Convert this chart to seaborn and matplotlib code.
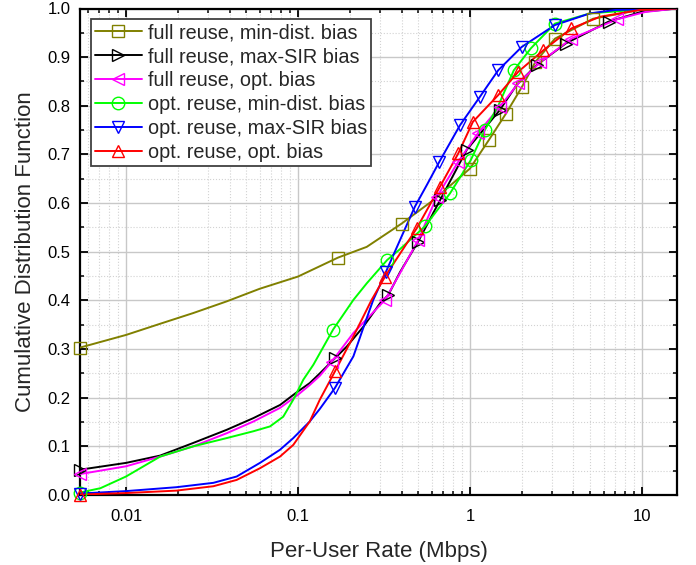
import matplotlib
matplotlib.use("Agg")
import matplotlib.pyplot as plt
import seaborn as sns
from matplotlib.lines import Line2D
from matplotlib.ticker import FixedLocator, FixedFormatter, LogLocator, MultipleLocator, NullFormatter

# ---------------- data ----------------
series_labels = [
    "full reuse, min-dist. bias",
    "full reuse, max-SIR bias",
    "full reuse, opt. bias",
    "opt. reuse, min-dist. bias",
    "opt. reuse, max-SIR bias",
    "opt. reuse, opt. bias",
]

# full reuse, min-dist. bias
fr_md_x = [0.0054, 0.01, 0.0158, 0.0246, 0.0385, 0.060, 0.1, 0.171, 0.251, 0.401, 0.612, 1.0, 1.29, 1.62, 2.0, 2.4, 3.12, 5.2, 9.7, 16]
fr_md_y = [0.303, 0.329, 0.352, 0.374, 0.398, 0.424, 0.449, 0.488, 0.510, 0.558, 0.606, 0.671, 0.730, 0.784, 0.838, 0.890, 0.938, 0.979, 0.997, 1.0]
fr_md_mx = [0.0054, 0.171, 0.401, 1.0, 1.29, 1.62, 2.0, 2.4, 3.12, 5.2]
fr_md_my = [0.303, 0.488, 0.558, 0.671, 0.730, 0.784, 0.838, 0.890, 0.938, 0.979]

# full reuse, max-SIR bias
fr_ms_x = [0.0054, 0.01, 0.0158, 0.0246, 0.0385, 0.055, 0.0786, 0.1, 0.117, 0.134, 0.164, 0.192, 0.24, 0.3, 0.335, 0.392, 0.5, 0.67, 0.96, 1.49, 1.87, 2.45, 3.6, 6.4, 9.9, 16]
fr_ms_y = [0.052, 0.066, 0.081, 0.107, 0.134, 0.158, 0.185, 0.213, 0.230, 0.250, 0.281, 0.305, 0.346, 0.394, 0.411, 0.458, 0.521, 0.606, 0.710, 0.791, 0.843, 0.884, 0.928, 0.973, 0.993, 1.0]
fr_ms_mx = [0.0054, 0.164, 0.335, 0.5, 0.67, 0.96, 1.49, 2.45, 3.6, 6.4]
fr_ms_my = [0.052, 0.281, 0.411, 0.521, 0.606, 0.710, 0.791, 0.884, 0.928, 0.973]

# full reuse, opt. bias
fr_op_x = [0.0054, 0.01, 0.0158, 0.0246, 0.0385, 0.055, 0.0786, 0.1, 0.117, 0.134, 0.157, 0.21, 0.321, 0.392, 0.5, 0.64, 0.855, 1.12, 1.49, 1.91, 2.57, 3.89, 7.2, 10.5, 16]
fr_op_y = [0.043, 0.059, 0.079, 0.100, 0.127, 0.151, 0.179, 0.206, 0.226, 0.245, 0.274, 0.333, 0.401, 0.456, 0.524, 0.612, 0.685, 0.745, 0.798, 0.846, 0.890, 0.938, 0.978, 0.993, 1.0]
fr_op_mx = [0.0054, 0.157, 0.321, 0.5, 0.64, 0.855, 1.12, 1.49, 1.91, 2.57, 3.89, 7.2]
fr_op_my = [0.043, 0.274, 0.401, 0.524, 0.612, 0.685, 0.745, 0.798, 0.846, 0.890, 0.938, 0.978]

# opt. reuse, min-dist. bias
or_md_x = [0.0054, 0.0071, 0.01, 0.0158, 0.0246, 0.0385, 0.055, 0.0688, 0.0821, 0.0939, 0.1074, 0.123, 0.16, 0.21, 0.251, 0.33, 0.391, 0.547, 0.766, 1.01, 1.22, 1.46, 1.80, 2.26, 3.12, 5.0, 9.0, 16]
or_md_y = [0.005, 0.014, 0.038, 0.079, 0.100, 0.117, 0.131, 0.141, 0.161, 0.196, 0.237, 0.268, 0.340, 0.401, 0.435, 0.483, 0.505, 0.552, 0.620, 0.688, 0.750, 0.800, 0.873, 0.918, 0.969, 0.990, 0.997, 1.0]
or_md_mx = [0.0054, 0.16, 0.33, 0.547, 0.766, 1.01, 1.22, 1.80, 2.26, 3.12]
or_md_my = [0.005, 0.340, 0.483, 0.552, 0.620, 0.688, 0.750, 0.873, 0.918, 0.969]

# opt. reuse, max-SIR bias
or_ms_x = [0.0054, 0.01, 0.0196, 0.0322, 0.044, 0.0601, 0.0786, 0.0939, 0.117, 0.134, 0.164, 0.21, 0.245, 0.274, 0.325, 0.392, 0.479, 0.561, 0.664, 0.875, 1.14, 1.46, 2.0, 3.12, 5.0, 7.0, 16]
or_ms_y = [0.003, 0.008, 0.016, 0.025, 0.038, 0.066, 0.093, 0.117, 0.151, 0.177, 0.220, 0.285, 0.353, 0.401, 0.459, 0.524, 0.593, 0.637, 0.685, 0.760, 0.818, 0.873, 0.921, 0.966, 0.990, 0.997, 1.0]
or_ms_mx = [0.0054, 0.164, 0.325, 0.479, 0.664, 0.875, 1.14, 1.46, 2.0, 3.12]
or_ms_my = [0.003, 0.220, 0.459, 0.593, 0.685, 0.760, 0.818, 0.873, 0.921, 0.966]

# opt. reuse, opt. bias
or_op_x = [0.0054, 0.01, 0.0196, 0.0322, 0.044, 0.0601, 0.0786, 0.0939, 0.117, 0.134, 0.164, 0.21, 0.268, 0.321, 0.392, 0.49, 0.67, 0.855, 1.04, 1.46, 1.91, 2.67, 3.89, 5.7, 9.7, 16]
or_op_y = [0.001, 0.004, 0.009, 0.018, 0.031, 0.055, 0.079, 0.103, 0.151, 0.196, 0.254, 0.326, 0.401, 0.449, 0.496, 0.548, 0.634, 0.702, 0.767, 0.822, 0.870, 0.914, 0.959, 0.983, 0.997, 1.0]
or_op_mx = [0.0054, 0.164, 0.321, 0.49, 0.67, 0.855, 1.04, 1.46, 1.91, 2.67, 3.89]
or_op_my = [0.001, 0.254, 0.449, 0.548, 0.634, 0.702, 0.767, 0.822, 0.870, 0.914, 0.959]

x_tick_values = [0.01, 0.1, 1, 10]
x_tick_labels = ["0.01", "0.1", "1", "10"]
y_tick_values = [0.0, 0.1, 0.2, 0.3, 0.4, 0.5, 0.6, 0.7, 0.8, 0.9, 1.0]
y_tick_labels = ["0.0", "0.1", "0.2", "0.3", "0.4", "0.5", "0.6", "0.7", "0.8", "0.9", "1.0"]

# ---------------- styling ----------------
colors = ["#808000", "#000000", "#ff00ff", "#00ff00", "#0000ff", "#ff0000"]
marker_styles = ["s", ">", "<", "o", "v", "^"]

sns.set_style("ticks")
plt.rcParams["font.family"] = ["Liberation Sans", "DejaVu Sans"]

fig = plt.figure(figsize=(6.96, 5.65), dpi=100)
ax = fig.add_axes([80 / 696, (565 - 495) / 565, (677 - 80) / 696, (495 - 8.5) / 565])
ax.set_xscale("log")

lines_data = [
    (fr_md_x, fr_md_y, fr_md_mx, fr_md_my),
    (fr_ms_x, fr_ms_y, fr_ms_mx, fr_ms_my),
    (fr_op_x, fr_op_y, fr_op_mx, fr_op_my),
    (or_md_x, or_md_y, or_md_mx, or_md_my),
    (or_ms_x, or_ms_y, or_ms_mx, or_ms_my),
    (or_op_x, or_op_y, or_op_mx, or_op_my),
]

handles = []
for (lx, ly, mx, my), col, mk, lab in zip(lines_data, colors, marker_styles, series_labels):
    sns.lineplot(x=lx, y=ly, ax=ax, color=col, linewidth=1.4, estimator=None, sort=False, zorder=3)
    sns.lineplot(x=mx, y=my, ax=ax, color=col, linestyle="none", marker=mk, markersize=9,
                 markerfacecolor="none", markeredgecolor=col, markeredgewidth=1.0,
                 estimator=None, sort=False, clip_on=False, zorder=4)
    handles.append(Line2D([], [], color=col, linewidth=1.4, marker=mk, markersize=9,
                          markerfacecolor="none", markeredgecolor=col, markeredgewidth=1.0))

ax.set_xlim(0.0054, 16)
ax.set_ylim(0.0, 1.0)

ax.xaxis.set_major_locator(FixedLocator(x_tick_values))
ax.xaxis.set_major_formatter(FixedFormatter(x_tick_labels))
ax.xaxis.set_minor_locator(LogLocator(base=10, subs=(2, 3, 4, 5, 6, 7, 8, 9), numticks=20))
ax.xaxis.set_minor_formatter(NullFormatter())
ax.yaxis.set_major_locator(FixedLocator(y_tick_values))
ax.yaxis.set_major_formatter(FixedFormatter(y_tick_labels))
ax.yaxis.set_minor_locator(MultipleLocator(0.05))

ax.grid(which="major", color="#c8c8c8", linewidth=1.0, linestyle="-", zorder=0)
ax.grid(which="minor", color="#d2d2d2", linewidth=0.8, linestyle=":", zorder=0)
ax.set_axisbelow(True)

for sp in ax.spines.values():
    sp.set_linewidth(1.6)
    sp.set_color("black")
    sp.set_visible(True)

ax.tick_params(which="both", direction="in", top=True, right=True, colors="black")
ax.tick_params(which="major", length=6, width=1.3, labelsize=12)
ax.tick_params(axis="x", which="major", pad=10)
ax.tick_params(axis="y", which="major", pad=7)
ax.tick_params(which="minor", length=3, width=1.1)

ax.set_xlabel("Per-User Rate (Mbps)", fontsize=16, labelpad=12)
ax.set_ylabel("Cumulative Distribution Function", fontsize=16, labelpad=8)

leg = ax.legend(handles, series_labels, loc="upper left", fontsize=14.3, frameon=True, fancybox=False,
                framealpha=1.0, edgecolor="#404040", borderpad=0.2, labelspacing=0.25,
                handlelength=2.35, handletextpad=0.3, borderaxespad=0.55)
leg.get_frame().set_linewidth(1.3)

fig.savefig("out.png", dpi=100)
